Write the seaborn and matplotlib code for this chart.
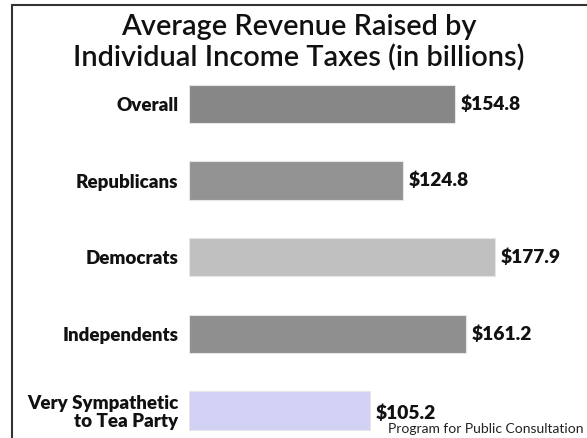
import matplotlib
matplotlib.use("Agg")
import matplotlib.pyplot as plt
import seaborn as sns
import pandas as pd
from matplotlib.lines import Line2D

categories = ["Overall", "Republicans", "Democrats", "Independents", "Very Sympathetic\nto Tea Party"]
values = [154.8, 124.8, 177.9, 161.2, 105.2]
value_labels = ["$154.8", "$124.8", "$177.9", "$161.2", "$105.2"]
colors = ["#878787", "#939393", "#c0c0c0", "#8f8f8f", "#cbcbfa"]

title_line1 = "Average Revenue Raised by"
title_line2 = "Individual Income Taxes (in billions)"
source = "Program for Public Consultation"

sns.set_style("white")
plt.rcParams['font.family'] = ['Lato', 'DejaVu Sans']

W, H = 587, 438
fig = plt.figure(figsize=(W / 100, H / 100), dpi=100)
fig.patch.set_facecolor("white")

# axes placed in pixel terms
ax_left, ax_right = 189, 587
ax_top, ax_bottom = 58, 433.5
ax = fig.add_axes([ax_left / W, 1 - ax_bottom / H, (ax_right - ax_left) / W, (ax_bottom - ax_top) / H])

df = pd.DataFrame({"cat": categories, "val": values})
sns.barplot(data=df, x="val", y="cat", hue="cat", palette=colors, legend=False,
            width=0.5, ax=ax, orient="h", edgecolor="#e6e6e6", linewidth=0.8)

ax.set_xlim(0, (ax_right - ax_left) / 1.718)
ax.set_ylim(4.3, -0.6)
for s in ax.spines.values():
    s.set_visible(False)
ax.set_xticks([])
ax.set_xlabel("")
ax.set_ylabel("")
ax.tick_params(axis="y", length=0, pad=7.5)
for lbl in ax.get_yticklabels():
    lbl.set_fontweight("heavy")
    lbl.set_fontsize(13.5)
    lbl.set_color("#111111")
    lbl.set_linespacing(1.05)

for i, (v, t) in enumerate(zip(values, value_labels)):
    dy = 0.04 if i == 4 else 0.0
    ax.annotate(t, xy=(v, i + dy), xytext=(4, 0), textcoords="offset points",
                va="center", ha="left", fontweight="heavy", fontsize=13.8, color="#111111")

fig.text(299 / W, 1 - 35 / H, title_line1, ha="center", va="baseline", fontsize=20.8,
         fontweight="semibold", color="#111111")
fig.text(299 / W, 1 - 67 / H, title_line2, ha="center", va="baseline", fontsize=20.8,
         fontweight="semibold", color="#111111")
fig.text(583 / W, 1 - 433 / H, source, ha="right", va="baseline", fontsize=10, color="#222222")

# frame lines (left and top)
fig.add_artist(Line2D([11.5 / W, 11.5 / W], [0, 1 - 5 / H], transform=fig.transFigure, color="#333333", lw=1.5))
fig.add_artist(Line2D([11.5 / W, 1], [1 - 5 / H, 1 - 5 / H], transform=fig.transFigure, color="#333333", lw=1.5))

fig.savefig("out.png", dpi=100, facecolor="white")
